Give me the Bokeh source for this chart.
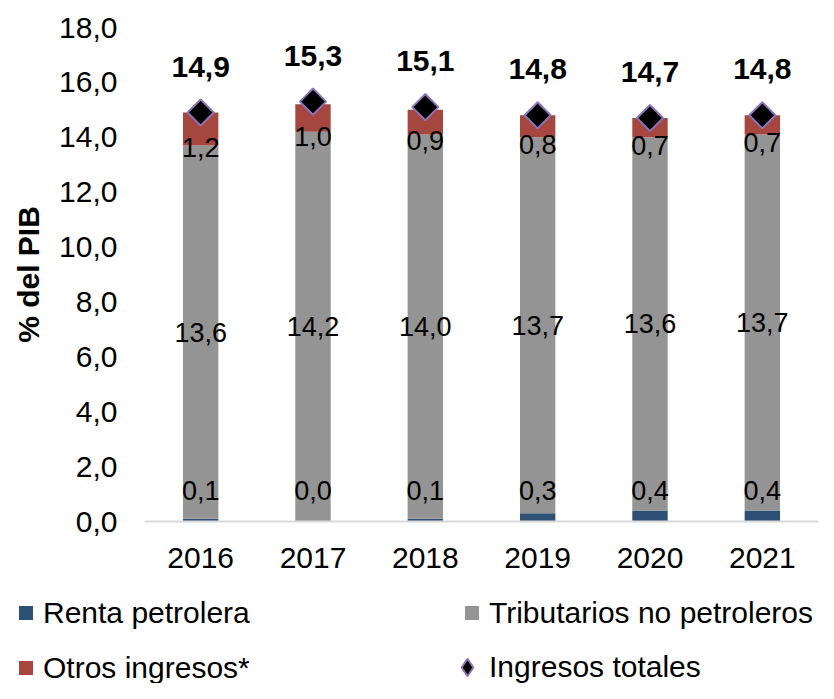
import math
from bokeh.plotting import figure
from bokeh.layouts import column
from bokeh.models import (ColumnDataSource, FactorRange, Range1d, FixedTicker,
                          CustomJSTickFormatter, Legend, LegendItem)
from bokeh.core.properties import value
from bokeh.embed import file_html
from bokeh.resources import INLINE

# ---- data ----
years = ["2016", "2017", "2018", "2019", "2020", "2021"]
renta = [0.1, 0.0, 0.1, 0.3, 0.4, 0.4]
tributarios = [13.6, 14.2, 14.0, 13.7, 13.6, 13.7]
otros = [1.2, 1.0, 0.9, 0.8, 0.7, 0.7]
totales = [14.9, 15.3, 15.1, 14.8, 14.7, 14.8]
y_ticks = [0, 2, 4, 6, 8, 10, 12, 14, 16, 18]
series_names = ["Renta petrolera", "Tributarios no petroleros", "Otros ingresos*", "Ingresos totales"]

BLUE = "#2E5075"
GRAY = "#949494"
RED = "#A6473F"
PURPLE = "#8C74B8"
FONT = "Liberation Sans"


def fmt(v):
    return f"{v:.1f}".replace(".", ",")


src = ColumnDataSource(dict(
    year=years,
    renta=renta,
    trib=tributarios,
    otros=otros,
    tot=totales,
    trib_mid=[r + t / 2 for r, t in zip(renta, tributarios)],
    otros_mid=[r + t + o / 2 for r, t, o in zip(renta, tributarios, otros)],
    zero=[0] * len(years),
    renta_lbl=[fmt(v) for v in renta],
    trib_lbl=[fmt(v) for v in tributarios],
    otros_lbl=[fmt(v) for v in otros],
    tot_lbl=[fmt(v) for v in totales],
))

W = 818
H_MAIN = 585
H_LEG = 98

p = figure(width=W, height=H_MAIN, x_range=FactorRange(factors=years),
           y_range=Range1d(0, 18), output_backend="svg", toolbar_location=None,
           min_border_left=144, min_border_right=0, min_border_top=27,
           min_border_bottom=H_MAIN - 521)
p.outline_line_color = None
p.xgrid.visible = False
p.ygrid.visible = False
p.background_fill_color = "white"
p.border_fill_color = "white"

p.vbar_stack(["renta", "trib", "otros"], x="year", width=0.315,
             color=[BLUE, GRAY, RED], line_color=None, source=src)

p.scatter(x="year", y="tot", marker="square", angle=math.pi / 4, size=18.5,
          fill_color="black", line_color=PURPLE, line_width=2, source=src)

# labels
p.text(x="year", y="zero", text="renta_lbl", y_offset=-31, text_align="center",
       text_baseline="middle", text_font=value(FONT), text_font_size="27px",
       text_color="black", source=src)
p.text(x="year", y="trib_mid", text="trib_lbl", text_align="center",
       text_baseline="middle", text_font=value(FONT), text_font_size="27px",
       text_color="black", source=src)
p.text(x="year", y="otros_mid", text="otros_lbl", y_offset=18, text_align="center",
       text_baseline="middle", text_font=value(FONT), text_font_size="27px",
       text_color="black", source=src)
p.text(x="year", y="tot", text="tot_lbl", y_offset=-46, text_align="center",
       text_baseline="middle", text_font=value(FONT), text_font_size="30px",
       text_font_style="bold", text_color="black", source=src)

# axes
p.yaxis.ticker = FixedTicker(ticks=y_ticks)
p.yaxis.formatter = CustomJSTickFormatter(code="return tick.toFixed(1).replace('.', ',')")
p.yaxis.axis_line_color = None
p.yaxis.major_tick_line_color = None
p.yaxis.minor_tick_line_color = None
p.yaxis.major_tick_out = 0
p.yaxis.major_tick_in = 0
p.yaxis.minor_tick_out = 0
p.yaxis.major_label_text_font = FONT
p.yaxis.major_label_text_font_size = "30px"
p.yaxis.major_label_text_color = "black"
p.yaxis.major_label_standoff = 27
p.yaxis.axis_label = "% del PIB"
p.yaxis.axis_label_text_font = FONT
p.yaxis.axis_label_text_font_size = "30px"
p.yaxis.axis_label_text_font_style = "bold"
p.yaxis.axis_label_text_color = "black"
p.yaxis.axis_label_standoff = 11

p.xaxis.axis_line_color = "#D9D9D9"
p.xaxis.axis_line_width = 2
p.xaxis.major_tick_line_color = None
p.xaxis.minor_tick_line_color = None
p.xaxis.major_tick_out = 0
p.xaxis.major_tick_in = 0
p.xaxis.major_label_text_font = FONT
p.xaxis.major_label_text_font_size = "30px"
p.xaxis.major_label_text_color = "black"
p.xaxis.major_label_standoff = 26

# ---- legend figure ----
pl = figure(width=W, height=H_LEG, x_range=Range1d(0, 1), y_range=Range1d(0, 1),
            output_backend="svg", toolbar_location=None,
            min_border=0, x_axis_type=None, y_axis_type=None)
pl.frame_align = False
pl.outline_line_color = None
pl.xgrid.visible = False
pl.ygrid.visible = False
pl.background_fill_color = "white"
pl.border_fill_color = "white"

# legend proxies (zero-size, only their legend swatches are seen)
l_renta = pl.scatter(x=[0.5], y=[0.5], size=0, marker="square", fill_color=BLUE, line_color=None)
l_trib = pl.scatter(x=[0.5], y=[0.5], size=0, marker="square", fill_color=GRAY, line_color=None)
l_otros = pl.scatter(x=[0.5], y=[0.5], size=0, marker="square", fill_color=RED, line_color=None)
l_tot = pl.scatter(x=[0.5], y=[0.5], size=0, marker="diamond",
                   fill_color="black", line_color=PURPLE, line_width=2)

common = dict(spacing=20, padding=0, margin=0, label_standoff=0,
              label_text_font=FONT, label_text_font_size="30px",
              label_text_color="black", border_line_color=None,
              background_fill_alpha=0)

leg1 = Legend(items=[LegendItem(label=series_names[0], renderers=[l_renta]),
                     LegendItem(label=series_names[2], renderers=[l_otros])],
              location=(8, -2), glyph_width=35, glyph_height=35, **common)
leg2 = Legend(items=[LegendItem(label=series_names[1], renderers=[l_trib])],
              location=(454, 53), glyph_width=35, glyph_height=35, **common)
leg3 = Legend(items=[LegendItem(label=series_names[3], renderers=[l_tot])],
              location=(445, -9), glyph_width=44, glyph_height=50, **common)
pl.add_layout(leg1)
pl.add_layout(leg2)
pl.add_layout(leg3)

layout = column(p, pl, spacing=0)
open("out.html", "w").write(file_html(layout, INLINE))
